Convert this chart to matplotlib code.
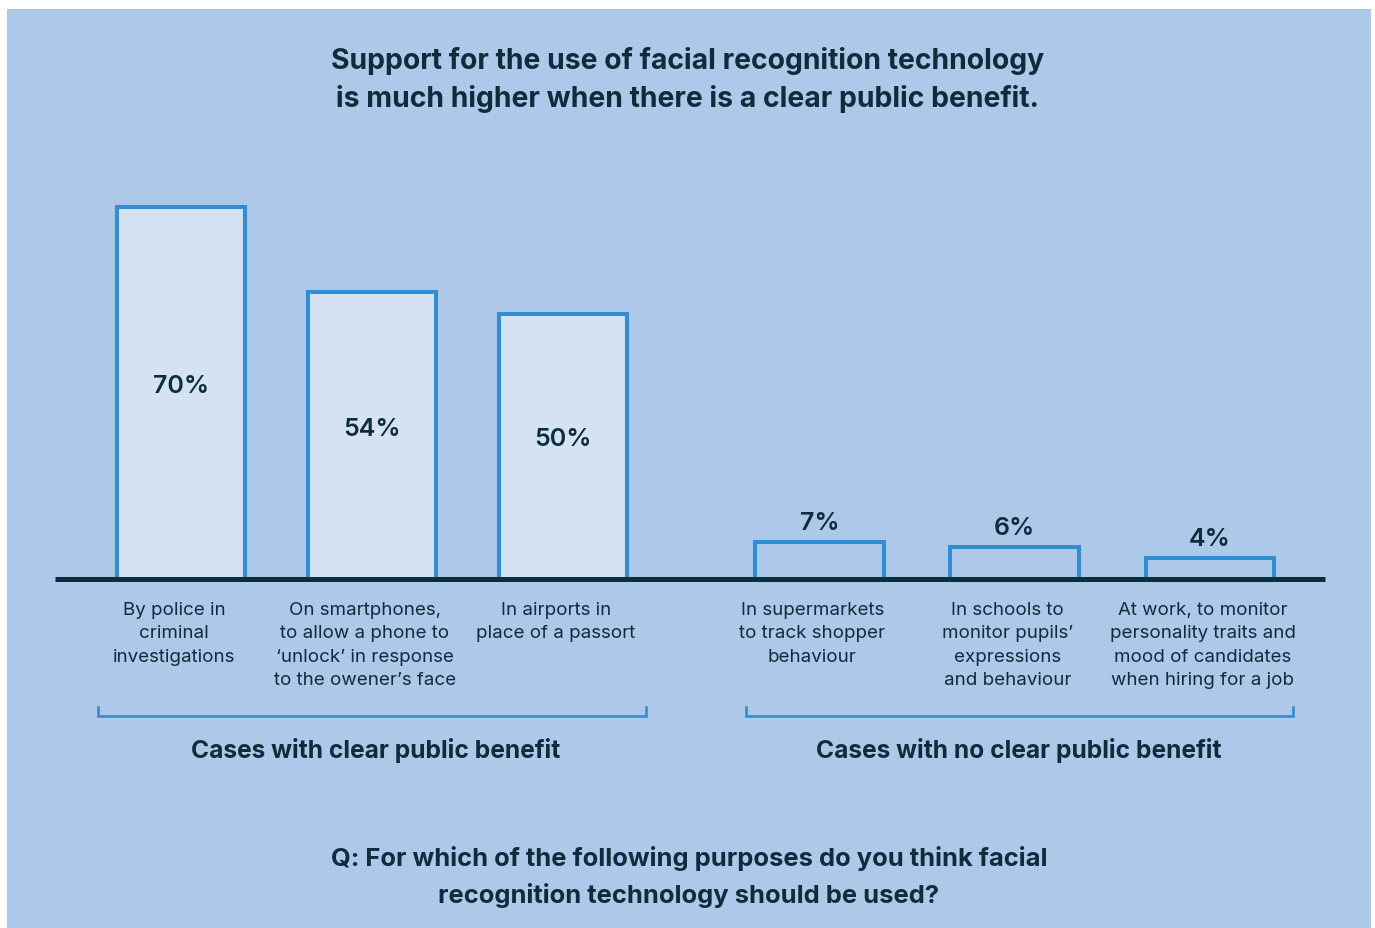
import matplotlib
matplotlib.use("Agg")
import matplotlib.pyplot as plt
from matplotlib.patches import Rectangle
import numpy as np

# survey results, % who think facial recognition should be used
labels = [
    "By police in\ncriminal\ninvestigations",
    "On smartphones,\nto allow a phone to\n\u2018unlock\u2019 in response\nto the owener\u2019s face",
    "In airports in\nplace of a passort",
    "In supermarkets\nto track shopper\nbehaviour",
    "In schools to\nmonitor pupils\u2019\nexpressions\nand behaviour",
    "At work, to monitor\npersonality traits and\nmood of candidates\nwhen hiring for a job",
]
values = [70, 54, 50, 7, 6, 4]
groups = [0, 0, 0, 1, 1, 1]
group_names = ["Cases with clear public benefit", "Cases with no clear public benefit"]

BG = "#adc8e8"
FILL = "#d5e2f3"
EDGE = "#2f8fd2"
DARK = "#0c2e3c"

plt.rcParams['font.family'] = ['Inter', 'DejaVu Sans']

W, H = 1375, 929
fig = plt.figure(figsize=(W / 100, H / 100), dpi=100)
fig.patch.set_facecolor("white")

def px(x, y):
    return x / W, 1 - y / H

# blue panel
fig.patches.append(Rectangle(px(7, 929), 1364 / W, 919 / H, transform=fig.transFigure,
                             facecolor=BG, edgecolor="none", zorder=-10))

# axes: baseline at y=580px, 5.31 px per percent point, 191 px per x unit
ax = fig.add_axes([55 / W, (H - 580) / H, 1270 / W, 75 * 5.31 / H])
ax.set_facecolor("none")
ax.set_xlim(-0.66, 5.99)
ax.set_ylim(0, 75)
ax.axis("off")

# bar positions: each group starts at its own offset, slightly wider pitch on the right
g_arr = np.array(groups)
idx_in_group = np.array([groups[:i].count(g) for i, g in enumerate(groups)])
group_start = np.array([0.0, 3.343])
pitch = np.array([1.0, 1.022])
x = group_start[g_arr] + idx_in_group * pitch[g_arr]
width = 0.672

fills = [FILL if g == 0 else BG for g in groups]
ax.bar(x, values, width=width, color=fills, edgecolor=EDGE, linewidth=2.9, zorder=2)
ax.axhline(0, color=DARK, linewidth=3.6, zorder=3, clip_on=False, solid_capstyle="butt")

for xi, v, g in zip(x, values, groups):
    if g == 0:
        ax.text(xi, v / 2 + 1.4, f"{v}%", ha="center", va="center", fontsize=18,
                fontweight="semibold", color=DARK)
    else:
        ax.text(xi, v + 3.7, f"{v}%", ha="center", va="center", fontsize=18,
                fontweight="semibold", color=DARK)

for xi, lab in zip(x, labels):
    ax.text(xi - 0.037, -4.1, lab, ha="center", va="top", fontsize=13.5,
            color=DARK, linespacing=1.49, clip_on=False)

# brackets under each group
yb, ytick = -25.8, -24.1
left_pad = [0.435, 0.385]
for g, name in enumerate(group_names):
    xs = x[g_arr == g]
    x0, x1 = xs.min() - left_pad[g], xs.max() + 0.435
    ax.plot([x0, x0, x1, x1], [ytick, yb, yb, ytick], color=EDGE, linewidth=1.9,
            clip_on=False, solid_joinstyle="miter")
    ax.text((xs.min() + xs.max()) / 2 + 0.02, -32.2, name, ha="center", va="center",
            fontsize=17.7, fontweight="bold", color=DARK, clip_on=False)

fig.text(*px(688, 80), "Support for the use of facial recognition technology\n"
         "is much higher when there is a clear public benefit.",
         ha="center", va="center", fontsize=20.4, fontweight="bold", color=DARK,
         linespacing=1.45)

fig.text(*px(689, 877), "Q: For which of the following purposes do you think facial\n"
         "recognition technology should be used?",
         ha="center", va="center", fontsize=18.4, fontweight="bold", color=DARK,
         linespacing=1.6)

fig.savefig("out.png", dpi=100)
